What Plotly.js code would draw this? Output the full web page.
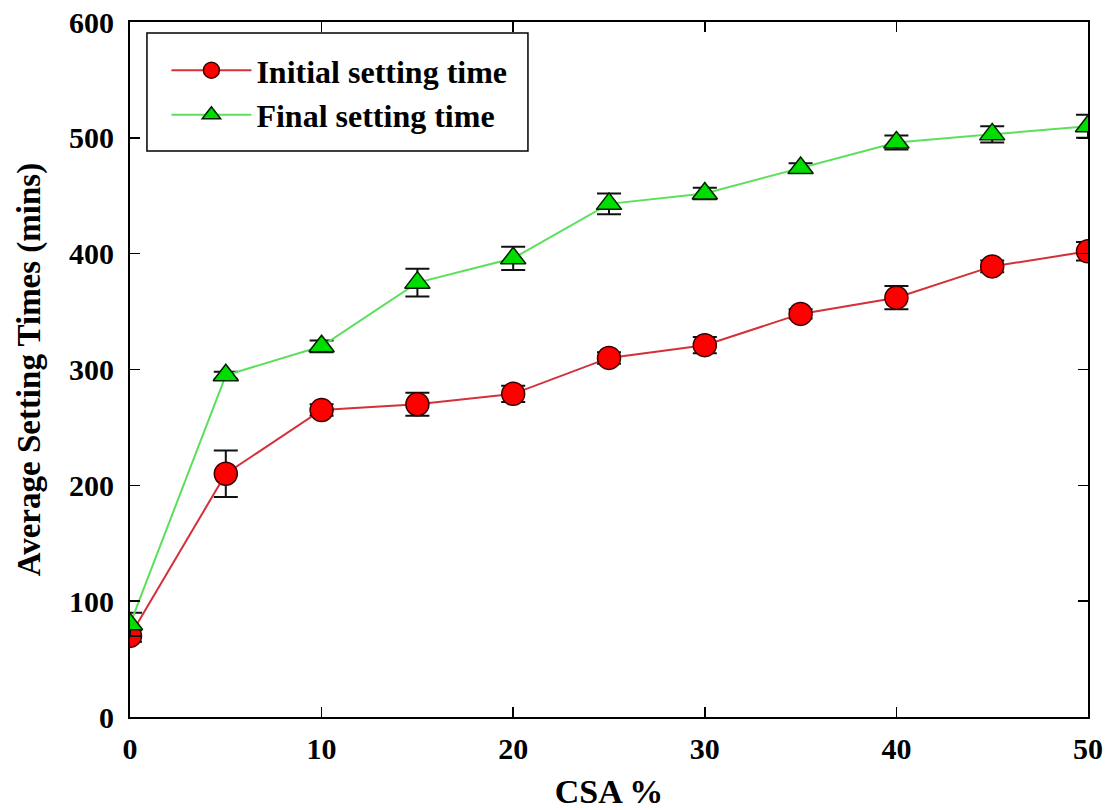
<!DOCTYPE html>
<html>
<head>
<meta charset="utf-8">
<script src="https://cdn.plot.ly/plotly-3.0.1.min.js"></script>
<style>html,body{margin:0;padding:0;background:#fff;}#chart{width:1108px;height:810px;}</style>
</head>
<body>
<div id="chart"></div>
<script>
const csa = [0, 5, 10, 15, 20, 25, 30, 35, 40, 45, 50];
const initialTime = [70, 210, 265, 270, 279, 310, 321, 348, 362, 389, 402];
const initialErr = [5, 20, 5, 10, 7, 5, 7, 4, 10, 5, 8];
const finalTime = [80, 295, 320, 375, 396, 443, 452, 474, 496, 503, 510];
const finalErr = [10, 3, 5, 12, 10, 9, 5, 4, 6, 7, 10];
const xTicks = [0, 10, 20, 30, 40, 50];
const yTicks = [0, 100, 200, 300, 400, 500, 600];

const font = "Liberation Serif, Times New Roman, serif";

const traces = [
  {
    x: csa, y: initialTime, name: "Initial setting time", type: "scatter", mode: "lines+markers",
    line: {color: "#d4303a", width: 2},
    marker: {symbol: "circle", size: 23, color: "#ff0000", line: {color: "#3a0000", width: 1.5}},
    error_y: {type: "data", array: initialErr, visible: true, color: "#111", thickness: 2, width: 12}
  },
  {
    x: csa, y: finalTime, name: "Final setting time", type: "scatter", mode: "lines+markers",
    line: {color: "#5ce05c", width: 2},
    marker: {symbol: "triangle-up", size: 22, color: "#00dd00", line: {color: "#002200", width: 1.5}},
    error_y: {type: "data", array: finalErr, visible: true, color: "#111", thickness: 2, width: 12}
  }
];

const layout = {
  width: 1108, height: 810,
  margin: {l: 130, r: 20, t: 22, b: 93},
  paper_bgcolor: "#fff", plot_bgcolor: "#fff",
  font: {family: font, color: "#000"},
  showlegend: true,
  legend: {
    x: 0.038, y: 0.97, xanchor: "left", yanchor: "top",
    bgcolor: "rgba(0,0,0,0)", borderwidth: 0,
    font: {family: font, size: 32, color: "#000", weight: "bold"},
    itemwidth: 80, tracegroupgap: 4
  },
  shapes: [{
    type: "rect", xref: "paper", yref: "paper",
    x0: 0.0177, x1: 0.4154, y0: 0.8144, y1: 0.9842,
    line: {color: "#000", width: 1.5}, fillcolor: "#fff", layer: "below"
  }],
  xaxis: {
    range: [0, 50], tickvals: xTicks, ticktext: xTicks.map(String),
    ticks: "inside", ticklen: 10, tickwidth: 1.5, tickcolor: "#000",
    showline: true, linecolor: "#000", linewidth: 2, mirror: "ticks",
    showgrid: false, zeroline: false, ticklabelstandoff: 4,
    tickfont: {family: font, size: 30, color: "#000", weight: "bold"},
    title: {text: "CSA %", font: {family: font, size: 34, color: "#000", weight: "bold"}, standoff: 16}
  },
  yaxis: {
    range: [0, 600], tickvals: yTicks, ticktext: yTicks.map(String),
    ticks: "inside", ticklen: 10, tickwidth: 1.5, tickcolor: "#000",
    showline: true, linecolor: "#000", linewidth: 2, mirror: "ticks",
    showgrid: false, zeroline: false, ticklabelstandoff: 8,
    tickfont: {family: font, size: 30, color: "#000", weight: "bold"},
    title: {text: "Average Setting Times (mins)", font: {family: font, size: 33, color: "#000", weight: "bold"}, standoff: 18}
  }
};

Plotly.newPlot("chart", traces, layout, {displayModeBar: false, staticPlot: true});
</script>
</body>
</html>
